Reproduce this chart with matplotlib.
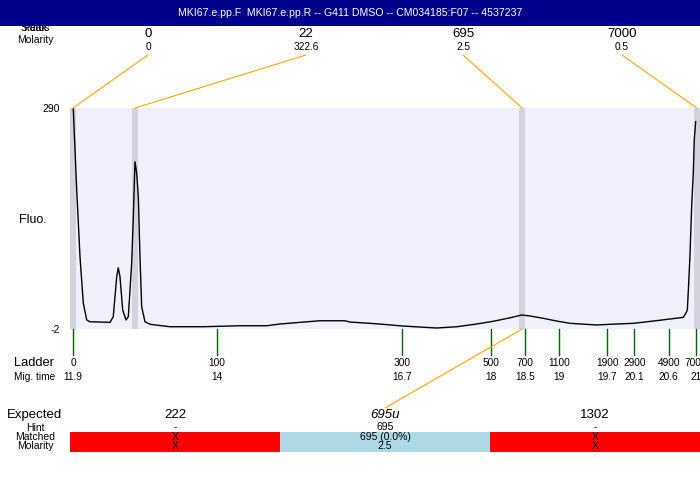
import matplotlib
matplotlib.use('Agg')
import matplotlib.pyplot as plt
import matplotlib.transforms as mtransforms
from matplotlib.patches import Rectangle, ConnectionPatch

plt.rcParams['font.family'] = ['Liberation Sans', 'DejaVu Sans']

title = "MKI67.e.pp.F  MKI67.e.pp.R -- G411 DMSO -- CM034185:F07 -- 4537237"

# electropherogram trace (migration time, fluorescence)
mig_time = [11.904, 11.954, 12.002, 12.050, 12.100, 12.148, 12.300, 12.440, 12.488,
            12.538, 12.561, 12.586, 12.626, 12.674, 12.708, 12.757, 12.781, 12.805,
            12.830, 12.854, 12.878, 12.903, 12.951, 13.025, 13.317, 13.799, 14.339,
            14.729, 14.923, 15.216, 15.508, 15.873, 15.946, 16.238, 16.428, 16.720,
            17.212, 17.504, 17.797, 18.039, 18.283, 18.454, 18.575, 18.770, 18.965,
            19.160, 19.550, 19.744, 20.084, 20.376, 20.620, 20.814, 20.853, 20.873,
            20.888, 20.911, 20.936, 20.960, 20.974, 20.995]
fluo = [288.7, 181.6, 93.5, 32.3, 9.9, 7.6, 7.2, 6.8, 14.2,
        67.0, 78.9, 67.0, 23.1, 9.9, 14.2, 85.2, 146.4, 219.0,
        204.1, 172.8, 93.5, 27.4, 7.6, 4.2, 1.0, 1.0, 2.3,
        2.3, 4.6, 6.8, 8.9, 8.9, 7.2, 5.5, 4.2, 1.9,
        -0.7, 1.0, 4.6, 8.2, 12.8, 16.5, 15.2, 12.1, 8.5,
        5.5, 3.3, 4.2, 5.5, 8.5, 11.2, 13.4, 19.1, 23.1,
        49.5, 93.5, 159.6, 203.7, 247.7, 271.9]

# called peaks
peak_sizes = ["0", "22", "695", "7000"]
peak_molarity = ["0", "322.6", "2.5", "0.5"]
peak_times = [11.90, 12.805, 18.46, 21.01]
peak_label_x = [148, 306, 463, 622]   # label layout, pixels

# ladder
ladder_sizes = ["0", "100", "300", "500", "700", "1100", "1900", "2900", "4900", "7000"]
ladder_times = [11.9, 14, 16.7, 18, 18.5, 19, 19.7, 20.1, 20.6, 21]
ladder_time_labels = ["11.9", "14", "16.7", "18", "18.5", "19", "19.7", "20.1", "20.6", "21"]

# expected products
expected = ["222", "695u", "1302"]
hint = ["-", "695", "-"]
matched = ["X", "695 (0.0%)", "X"]
matched_molarity = ["X", "2.5", "X"]
matched_ok = [False, True, False]

W, H = 700, 480
fig = plt.figure(figsize=(7, 4.8), dpi=100)


def fy(py):
    return 1 - py / H


def fx(px):
    return px / W


# title bar
fig.add_artist(Rectangle((0, fy(26)), 1, 26 / H, transform=fig.transFigure,
                         facecolor='#00008b', edgecolor='none', zorder=5))
fig.text(0.5, fy(13), title, color='white', fontsize=7.6, ha='center', va='center', zorder=6)

# main trace area
ax = fig.add_axes([fx(70), fy(329), fx(630), 221 / H])
ax.set_facecolor('#f0f0fc')
for s in ax.spines.values():
    s.set_visible(False)
ax.set_xlim(11.856, 21.058)
ax.set_ylim(-2, 290)
ax.set_xticks([])
ax.set_yticks([-2, 290])
ax.set_yticklabels(["-2", "290"], fontsize=7.5)
ax.tick_params(axis='y', length=0, pad=7)
for t in peak_times:
    ax.axvspan(t - 0.045, t + 0.045, color='#d3d3e0', lw=0)
ax.plot(mig_time, fluo, color='black', lw=1)

fig.text(fx(33), fy(220), "Fluo.", fontsize=9, ha='center', va='center')

# peak labels and connectors
fig.text(fx(35), fy(28), "Status", fontsize=7.5, ha='center', va='center', zorder=1)
fig.text(fx(35), fy(28), "Peak", fontsize=7.5, ha='center', va='center', zorder=1)
fig.text(fx(35), fy(40), "Molarity", fontsize=7.5, ha='center', va='center')
for px, size, mol, t in zip(peak_label_x, peak_sizes, peak_molarity, peak_times):
    fig.text(fx(px), fy(34), size, fontsize=9.5, ha='center', va='center')
    fig.text(fx(px), fy(47), mol, fontsize=7.3, ha='center', va='center')
    con = ConnectionPatch(xyA=(fx(px), fy(55)), coordsA=fig.transFigure,
                          xyB=(t, 290), coordsB=ax.transData,
                          color='orange', lw=0.8)
    fig.add_artist(con)

# ladder
lad = mtransforms.blended_transform_factory(ax.transData, fig.transFigure)
fig.text(fx(34), fy(363), "Ladder", fontsize=9.3, ha='center', va='center')
fig.text(fx(35), fy(377), "Mig. time", fontsize=7.3, ha='center', va='center')
for size, t, tl in zip(ladder_sizes, ladder_times, ladder_time_labels):
    ax.plot([t, t], [fy(329), fy(355)], color='darkgreen', lw=1,
            transform=lad, clip_on=False)
    ax.text(t, fy(363), size, fontsize=7.3, ha='center', va='center', transform=lad, clip_on=False)
    ax.text(t, fy(377), tl, fontsize=7.3, ha='center', va='center', transform=lad, clip_on=False)

# expected / matched table
tab = fig.add_axes([fx(70), fy(452), fx(630), 20 / H])
tab.set_xlim(0, 3)
tab.set_ylim(0, 1)
tab.axis('off')
cols = ['lightblue' if ok else 'red' for ok in matched_ok]
tab.bar([i + 0.5 for i in range(3)], 1, width=1, color=cols, align='center')
tt = mtransforms.blended_transform_factory(tab.transData, fig.transFigure)
fig.text(fx(35), fy(415), "Expected", fontsize=9.5, ha='center', va='center')
fig.text(fx(35), fy(428), "Hint", fontsize=7.5, ha='center', va='center')
fig.text(fx(35), fy(437), "Matched", fontsize=7.5, ha='center', va='center')
fig.text(fx(35), fy(446), "Molarity", fontsize=7.5, ha='center', va='center')
for i in range(3):
    x = i + 0.5
    style = 'italic' if expected[i].endswith('u') else 'normal'
    tab.text(x, fy(415), expected[i], fontsize=9.5, style=style, ha='center', va='center',
             transform=tt, clip_on=False)
    tab.text(x, fy(427), hint[i], fontsize=7.5, ha='center', va='center', transform=tt, clip_on=False)
    tab.text(x, fy(437), matched[i], fontsize=7.5, ha='center', va='center', transform=tt, clip_on=False)
    tab.text(x, fy(446), matched_molarity[i], fontsize=7.5, ha='center', va='center',
             transform=tt, clip_on=False)
    if matched_ok[i]:
        t = peak_times[peak_sizes.index(hint[i])]
        con = ConnectionPatch(xyA=(t, -2), coordsA=ax.transData,
                              xyB=(x, fy(408)), coordsB=tt,
                              color='orange', lw=0.8)
        fig.add_artist(con)

fig.savefig('out.png', dpi=100)
